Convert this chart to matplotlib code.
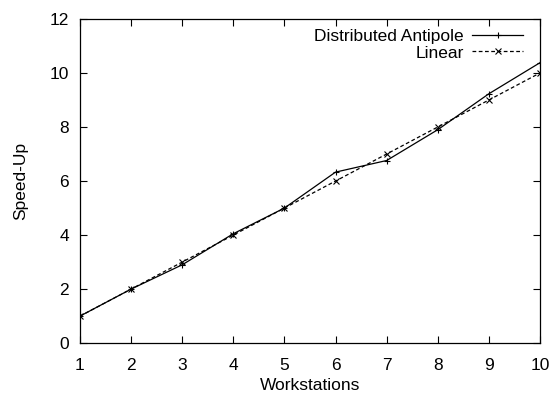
import matplotlib
matplotlib.use("Agg")
import matplotlib.pyplot as plt

workstations = [1, 2, 3, 4, 5, 6, 7, 8, 9, 10]
antipole_speedup = [1.0, 2.0, 2.9, 4.05, 5.0, 6.33, 6.76, 7.9, 9.23, 10.38]
linear_speedup = [1, 2, 3, 4, 5, 6, 7, 8, 9, 10]
x_ticks = [1, 2, 3, 4, 5, 6, 7, 8, 9, 10]
y_ticks = [0, 2, 4, 6, 8, 10, 12]

plt.rcParams['font.family'] = ['Liberation Sans', 'DejaVu Sans']

fig = plt.figure(figsize=(5.55, 3.94), dpi=100)
ax = fig.add_axes([0.144, 0.129, 0.829, 0.823])

ax.plot(workstations, antipole_speedup, color='black', linewidth=0.9,
        marker='+', markersize=5, markeredgewidth=0.8, label='Distributed Antipole')
ax.plot(workstations, linear_speedup, color='black', linewidth=0.9,
        linestyle=(0, (3, 2)), marker='x', markersize=4, markeredgewidth=0.8,
        label='Linear')

ax.set_xlim(1, 10)
ax.set_ylim(0, 12)
ax.set_xticks(x_ticks)
ax.set_yticks(y_ticks)
ax.tick_params(direction='in', top=True, right=True, length=5, width=0.8,
               labelsize=12.5)
ax.tick_params(axis='x', pad=11)
ax.tick_params(axis='y', pad=8)
for s in ax.spines.values():
    s.set_linewidth(0.9)

ax.set_xlabel('Workstations', fontsize=12.5, labelpad=3)
ax.set_ylabel('Speed-Up', fontsize=12.5, labelpad=15)

ax.legend(loc='upper right', frameon=False, markerfirst=False, fontsize=12.5,
          handlelength=2.9, handletextpad=0.5, labelspacing=0.05,
          borderaxespad=0.2, bbox_to_anchor=(0.985, 1.0))

fig.savefig('out.png', dpi=100)
